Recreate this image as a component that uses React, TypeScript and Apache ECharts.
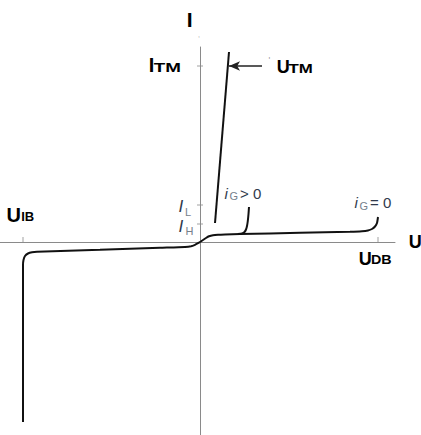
import React, { useEffect, useRef } from "react";
import * as echarts from "echarts";

// Thyristor I-V characteristic (u: voltage axis, i: current axis, arbitrary units)
const offStateCurve: [number, number][] = [
  [-177, -180], [-177, -40], [-177, -23], [-176.5, -18], [-175, -14], [-172, -11.5],
  [-168, -10.3], [-163, -9.8], [-100, -7.8], [-40, -5.8], [-15, -5], [-9, -4.3],
  [-5, -2.8], [-2, -1.2], [0, 0], [3, 2], [6, 4], [9, 5.7], [13, 6.8], [18, 7.3],
  [25, 7.6], [40, 8], [100, 9.2], [150, 10.3], [162, 10.8], [168, 11.6], [172, 13],
  [175, 15.5], [177, 19], [178, 25],
];
const gateCurve: [number, number][] = [
  [38, 8], [42, 8.6], [44.5, 10], [46, 12.5], [47, 16], [47.8, 21], [48.5, 28], [49, 35],
];
const onStateCurve: [number, number][] = [[15, 19], [29, 190]];
const xTicks = [-177, 178]; // U_IB, U_DB
const yTicks = [176, 37, 18]; // I_TM, I_L, I_H
const arrowFrom: [number, number] = [62, 176];
const arrowTo: [number, number] = [29, 176];

const FONT = "'Liberation Sans', Arial, sans-serif";
const AXIS = "#8a8a8a";
const MAIN = "#2f3a4c";
const SUB = "#76808c";

function txt(x: number, y: number, text: string, size: number, opts: any = {}) {
  return {
    type: "text",
    x,
    y,
    scaleX: opts.scaleX ?? 1,
    silent: true,
    style: {
      text,
      fontSize: size,
      fontFamily: FONT,
      fontWeight: opts.bold ? "bold" : "normal",
      fontStyle: opts.italic ? "italic" : "normal",
      fill: opts.color ?? "#000",
      align: "left",
      verticalAlign: "middle",
    },
  };
}

export default function App() {
  const ref = useRef<HTMLDivElement>(null);
  useEffect(() => {
    if (!ref.current) return;
    const chart = echarts.init(ref.current, undefined, { renderer: "svg" });
    const lineStyle = { color: "#111", width: 2 };
    chart.setOption({
      animation: false,
      backgroundColor: "#fff",
      grid: { left: 0, right: 26, top: 47, bottom: 0 },
      xAxis: {
        type: "value",
        min: -200,
        max: 195,
        axisLine: { show: true, onZero: true, lineStyle: { color: AXIS, width: 1 } },
        axisTick: { show: false },
        axisLabel: { show: false },
        splitLine: { show: false },
      },
      yAxis: {
        type: "value",
        min: -193,
        max: 195,
        axisLine: { show: true, onZero: true, lineStyle: { color: AXIS, width: 1 } },
        axisTick: { show: false },
        axisLabel: { show: false },
        splitLine: { show: false },
      },
      series: [
        {
          type: "line",
          data: offStateCurve,
          showSymbol: false,
          smooth: 0.2,
          lineStyle,
          silent: true,
        },
        {
          type: "line",
          data: gateCurve,
          showSymbol: false,
          smooth: 0.2,
          lineStyle,
          silent: true,
        },
        {
          type: "line",
          data: onStateCurve,
          showSymbol: false,
          lineStyle,
          silent: true,
          markLine: {
            silent: true,
            symbol: ["none", "arrow"],
            symbolSize: [7, 11],
            label: { show: false },
            lineStyle: { color: "#222", width: 1.5, type: "solid" },
            data: [[{ coord: arrowFrom }, { coord: arrowTo }]],
          },
        },
        {
          type: "scatter",
          data: xTicks.map((u) => [u, 0]),
          symbol: "rect",
          symbolSize: [1, 6],
          symbolOffset: [0, -2],
          itemStyle: { color: AXIS },
          silent: true,
        },
        {
          type: "scatter",
          data: yTicks.map((i) => [0, i]),
          symbol: "rect",
          symbolSize: [6, 1],
          itemStyle: { color: AXIS },
          silent: true,
        },
      ],
      graphic: [
        txt(186.7, 19.5, "I", 21, { bold: true }),
        txt(198, 34, ",", 7, { color: "#aaa" }),
        txt(148.7, 65, "I", 20, { bold: true }),
        txt(153.7, 67.5, "TM", 13, { bold: true, scaleX: 1.45 }),
        txt(268.5, 60, "'", 9, { color: "#999" }),
        txt(276.7, 66.5, "U", 18, { bold: true }),
        txt(288.5, 68.5, "TM", 12.5, { bold: true, scaleX: 1.35 }),
        txt(6.5, 215, "U", 20, { bold: true }),
        txt(21.2, 216.5, "IB", 13, { bold: true }),
        txt(358.7, 258.5, "U", 18, { bold: true }),
        txt(371, 260, "DB", 13, { bold: true, scaleX: 1.1 }),
        txt(408.7, 241.5, "U", 18, { bold: true }),
        txt(178.5, 206.5, "I", 17, { italic: true, color: MAIN }),
        txt(185, 211.5, "L", 11, { color: SUB }),
        txt(178.5, 226, "I", 17, { italic: true, color: MAIN }),
        txt(185.5, 230.5, "H", 11, { color: SUB }),
        txt(224.5, 193, "i", 15, { italic: true, color: MAIN }),
        txt(229.5, 196, "G", 11, { color: SUB }),
        txt(240, 193, "> 0", 15, { color: MAIN }),
        txt(354.5, 202.5, "i", 15, { italic: true, color: MAIN }),
        txt(359.5, 205.5, "G", 11, { color: SUB }),
        txt(370, 202.5, "= 0", 15, { color: MAIN }),
      ],
    });
    return () => chart.dispose();
  }, []);
  return (
    <div
      ref={ref}
      style={{ position: "fixed", left: 0, top: 0, width: 421, height: 435, background: "#fff" }}
    />
  );
}
